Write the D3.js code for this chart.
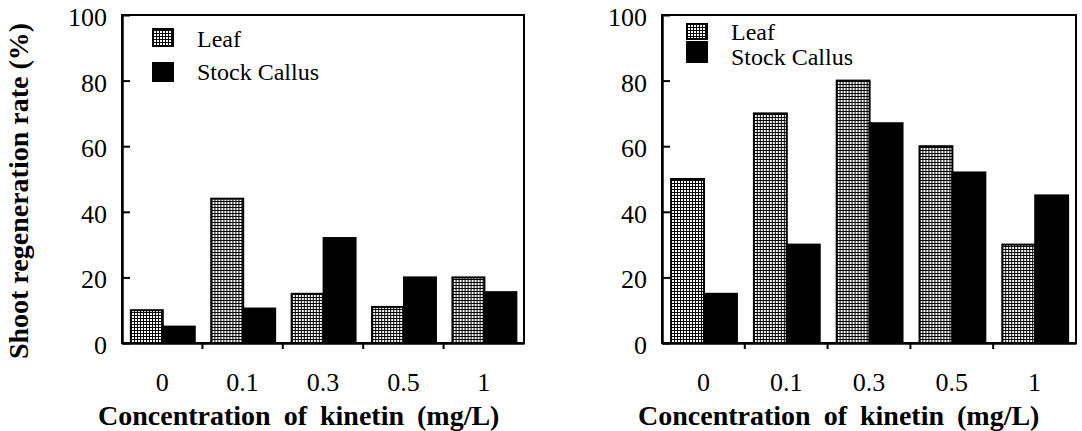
<!DOCTYPE html>
<html>
<head>
<meta charset="utf-8">
<script src="https://cdn.jsdelivr.net/npm/d3@7"></script>
<style>
	body{margin:0;background:#fff;}
	svg{display:block;}
</style>
</head>
<body>
<div id="chart"></div>
<script>

const categories = ['0', '0.1', '0.3', '0.5', '1'];
const seriesNames = ['Leaf', 'Stock Callus'];
const yTicks = [0, 20, 40, 60, 80, 100];

// left panel
const leafLeft = [10, 44, 15, 11, 20];
const callusLeft = [5, 10.5, 32, 20, 15.5];
// right panel
const leafRight = [50, 70, 80, 60, 30];
const callusRight = [15, 30, 67, 52, 45];

const W = 1082, H = 431;
const SERIF = "'Liberation Serif', 'DejaVu Serif'";

const svg = d3.select('#chart')
	.append('svg')
	.attr('width', W)
	.attr('height', H)
	.style('font-family', SERIF);

svg.append('rect').attr('width', W).attr('height', H).attr('fill', '#fff');

// grid pattern for the leaf bars
const defs = svg.append('defs');
const pat = defs.append('pattern')
	.attr('id', 'grid')
	.attr('patternUnits', 'userSpaceOnUse')
	.attr('width', 3)
	.attr('height', 3);
pat.append('rect').attr('width', 3).attr('height', 3).attr('fill', '#fff');
pat.append('rect').attr('width', 1).attr('height', 3).attr('fill', '#000');
pat.append('rect').attr('width', 3).attr('height', 1).attr('fill', '#000');

const fills = ['url(#grid)', '#000'];

function drawPanel(opts){
	const {l, r, t, b, leaf, callus, legend, yTitle} = opts;

	const rows = categories.map((c, i) => ({cat: c, values: [leaf[i], callus[i]]}));

	const x = d3.scaleBand().domain(categories).range([l, r]).padding(0);
	const bw = x.bandwidth();
	const xs = d3.scaleBand().domain(seriesNames).range([bw * 0.11, bw * 0.905]).padding(0);
	const y = d3.scaleLinear().domain([0, 100]).range([b, t]);

	const g = svg.append('g').attr('class', 'panel');

	// bars
	const groups = g.selectAll('.grp')
		.data(rows)
		.enter()
		.append('g')
		.attr('class', 'grp')
		.attr('transform', d => `translate(${x(d.cat)},0)`);

	groups.selectAll('rect')
		.data(d => d.values.map((v, i) => ({name: seriesNames[i], v: v, i: i})))
		.enter()
		.append('rect')
		.attr('x', d => xs(d.name))
		.attr('width', xs.bandwidth())
		.attr('y', d => y(d.v))
		.attr('height', d => y(0) - y(d.v))
		.attr('fill', d => fills[d.i])
		.attr('stroke', '#000')
		.attr('stroke-width', 2);

	// frame
	g.append('rect')
		.attr('x', l).attr('y', t)
		.attr('width', r - l).attr('height', b - t)
		.attr('fill', 'none')
		.attr('stroke', '#000')
		.attr('stroke-width', 2);

	// y axis, ticks pointing inward
	const yAxis = g.append('g')
		.attr('transform', `translate(${l},0)`)
		.call(d3.axisLeft(y).tickValues(yTicks).tickSizeInner(-8).tickSizeOuter(0).tickPadding(15));
	yAxis.attr('font-family', null).attr('font-size', null);
	yAxis.select('.domain').attr('stroke-width', 2.5);
	yAxis.selectAll('line').attr('stroke-width', 2);
	yAxis.selectAll('text')
		.style('font-family', SERIF)
		.style('font-size', '26px')
		.attr('dy', '0.4em');

	// x axis labels
	const xAxis = g.append('g')
		.attr('transform', `translate(0,${b})`)
		.call(d3.axisBottom(x).tickSize(0).tickPadding(30));
	xAxis.attr('font-family', null).attr('font-size', null);
	xAxis.select('.domain').attr('stroke-width', 2.5);
	xAxis.selectAll('text')
		.style('font-family', SERIF)
		.style('font-size', '26px');

	// category boundary ticks, pointing down
	g.selectAll('.btick')
		.data(categories.slice(1))
		.enter()
		.append('line')
		.attr('class', 'btick')
		.attr('x1', d => x(d)).attr('x2', d => x(d))
		.attr('y1', b).attr('y2', b + 6)
		.attr('stroke', '#000')
		.attr('stroke-width', 2);

	// x title
	g.append('text')
		.attr('x', l - 24)
		.attr('y', 425)
		.style('font-family', SERIF)
		.style('font-size', '28px')
		.style('font-weight', 'bold')
		.style('word-spacing', '6px')
		.text('Concentration of kinetin (mg/L)');

	if (yTitle){
		g.append('text')
			.attr('transform', `translate(28,${(t + b) / 2 + 12}) rotate(-90)`)
			.attr('text-anchor', 'middle')
			.style('font-family', SERIF)
			.style('font-size', '28px')
			.style('font-weight', 'bold')
			.text(yTitle);
	}

	// legend
	const lg = g.selectAll('.leg')
		.data(seriesNames)
		.enter()
		.append('g')
		.attr('class', 'leg');
	lg.append('rect')
		.attr('x', legend.x)
		.attr('y', (d, i) => legend.ys[i])
		.attr('width', 20)
		.attr('height', (d, i) => legend.hs[i])
		.attr('fill', (d, i) => fills[i])
		.attr('stroke', '#000')
		.attr('stroke-width', 2);
	lg.append('text')
		.attr('x', legend.x + 44)
		.attr('y', (d, i) => legend.base[i])
		.style('font-family', SERIF)
		.style('font-size', '24px')
		.text(d => d);
}

drawPanel({
	l: 122, r: 524, t: 15, b: 343,
	leaf: leafLeft, callus: callusLeft,
	legend: {x: 153, ys: [29, 63], hs: [17, 18], base: [47, 80]},
	yTitle: 'Shoot regeneration rate (%)'
});

drawPanel({
	l: 662, r: 1076, t: 15, b: 343,
	leaf: leafRight, callus: callusRight,
	legend: {x: 687, ys: [24, 42], hs: [15, 20], base: [40, 65]},
	yTitle: null
});

</script>
</body>
</html>
